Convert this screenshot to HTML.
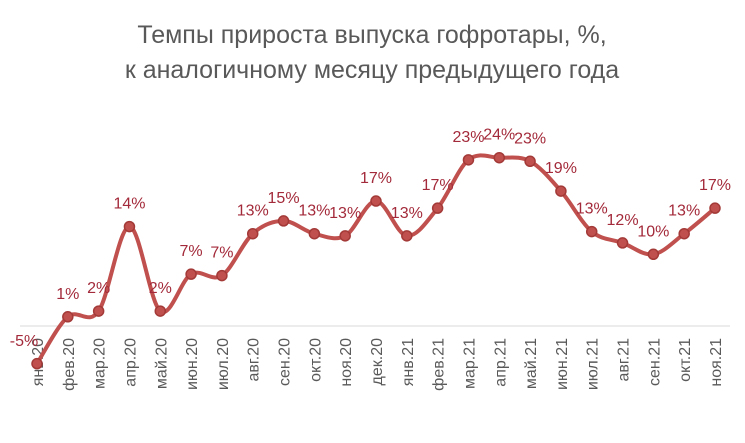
<!DOCTYPE html>
<html><head><meta charset="utf-8"><style>
body{margin:0;background:#fff;}
svg{display:block;font-family:"Liberation Sans",sans-serif;}
</style></head><body>
<svg id="chart" width="745" height="443">
<text x="372" y="43" text-anchor="middle" font-size="25" fill="#595959">Темпы прироста выпуска гофротары, %,</text>
<text x="372" y="78" text-anchor="middle" font-size="25" fill="#595959">к аналогичному месяцу предыдущего года</text>
<line x1="20" y1="326" x2="730" y2="326" stroke="#d9d9d9" stroke-width="1"/>
<g id="xlabels"></g>
<path id="series" fill="none" stroke="#c0504d" stroke-width="4"/>
<g id="marks"></g>
</svg>
<script>
const categories=["янв.20","фев.20","мар.20","апр.20","май.20","июн.20","июл.20","авг.20","сен.20","окт.20","ноя.20","дек.20","янв.21","фев.21","мар.21","апр.21","май.21","июн.21","июл.21","авг.21","сен.21","окт.21","ноя.21"];
const values=[-5.3,1.3,2.1,14,2.1,7.3,7.1,13,14.8,13,12.7,17.6,12.7,16.6,23.4,23.7,23.2,19,13.3,11.7,10.1,13,16.6];
const labels=["-5%","1%","2%","14%","2%","7%","7%","13%","15%","13%","13%","17%","13%","17%","23%","24%","23%","19%","13%","12%","10%","13%","17%"];
const NS="http://www.w3.org/2000/svg";
const x0=37,x1=715,y0=326,pxPer=7.1;
function xs(i){return x0+(x1-x0)*i/(categories.length-1);}
function ys(v){return y0-v*pxPer;}
const pts=values.map((v,i)=>[xs(i),ys(v)]);
let d="M"+pts[0][0]+","+pts[0][1];
for(let i=0;i<pts.length-1;i++){
 const p0=pts[Math.max(0,i-1)],p1=pts[i],p2=pts[i+1],p3=pts[Math.min(pts.length-1,i+2)];
 const t=1/6;
 d+=" C"+(p1[0]+(p2[0]-p0[0])*t)+","+(p1[1]+(p2[1]-p0[1])*t)+" "+(p2[0]-(p3[0]-p1[0])*t)+","+(p2[1]-(p3[1]-p1[1])*t)+" "+p2[0]+","+p2[1];
}
document.getElementById("series").setAttribute("d",d);
const xl=document.getElementById("xlabels"),mk=document.getElementById("marks");
categories.forEach((c,i)=>{
 const t=document.createElementNS(NS,"text");
 const x=xs(i)+6,y=338;
 t.setAttribute("x",x);t.setAttribute("y",y);
 t.setAttribute("transform","rotate(-90 "+x+" "+y+")");
 t.setAttribute("text-anchor","end");t.setAttribute("font-size","16");t.setAttribute("fill","#595959");
 t.textContent=c;
 
 
 xl.appendChild(t);
});
values.forEach((v,i)=>{
 const c=document.createElementNS(NS,"circle");
 c.setAttribute("cx",xs(i));c.setAttribute("cy",ys(v));c.setAttribute("r","5");
 c.setAttribute("fill","#c0504d");c.setAttribute("stroke","#a33a38");c.setAttribute("stroke-width","1.5");
 
 
 mk.appendChild(c);
 const t=document.createElementNS(NS,"text");
 if(i===0){t.setAttribute("x",xs(i)-13);t.setAttribute("y",346);}
 else{t.setAttribute("x",xs(i));t.setAttribute("y",ys(v)-18);}
 t.setAttribute("text-anchor","middle");t.setAttribute("font-size","16");t.setAttribute("fill","#a32a3a");
 t.textContent=labels[i];
 
 
 mk.appendChild(t);
});
</script>
</body></html>
